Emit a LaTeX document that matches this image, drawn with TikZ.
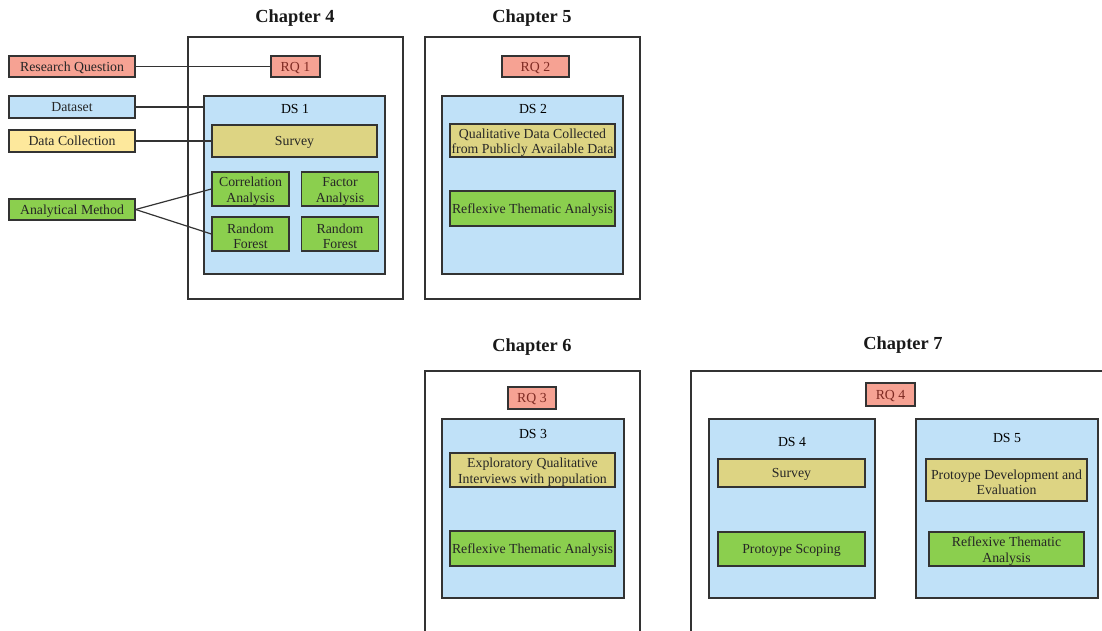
\documentclass[tikz,border=0pt]{standalone}
\usepackage{fontspec}
\setmainfont{Liberation Serif}
\newcommand{\taillebox}{\fontsize{13.8}{15.5}\selectfont}
\newcommand{\ligne}{\rule[-3.4pt]{0pt}{16.2pt}}
\newcommand{\lignes}{\rule{0pt}{13.7pt}}
\definecolor{rqfill}{HTML}{F6A293}
\definecolor{rqtext}{HTML}{7E2A22}
\definecolor{dsfill}{HTML}{C0E1F8}
\definecolor{dcfill}{HTML}{DDD483}
\definecolor{lgfill}{HTML}{FDE89C}
\definecolor{amfill}{HTML}{8BCF4E}
\definecolor{edge}{HTML}{333333}

\begin{document}
\begin{tikzpicture}[x=1pt,y=-1pt,line width=1.2pt,
  box/.style={draw=edge,inner sep=0pt,align=center,font=\taillebox,text=black!85},
  chap/.style={font=\fontsize{18.4}{20}\selectfont\bfseries,text=black!90},
  frame/.style={draw=edge,fill=white,inner sep=0pt}]
  \useasboundingbox (0,0) rectangle (1102,631);
        % Chapter 4
        \node[chap] (t4) at (295,18.5) {Chapter 4};
        \node[frame,minimum width=215,minimum height=262] (ch4) at (295.5,168) {};
        \node[box,fill=rqfill,text=rqtext,minimum width=49,minimum height=21] (rq1) at (295.5,66.5) {\ligne RQ 1};
        \node[box,fill=dsfill,minimum width=181,minimum height=178] (ds1) at (294.5,185) {};
        \node[font=\taillebox,inner sep=0pt] (ds1lbl) at (295,109) {DS 1};
        \node[box,fill=dcfill,minimum width=165,minimum height=32] (surv1) at (294.5,141) {\ligne Survey};
        \node[box,fill=amfill,minimum width=77,minimum height=34] (corr) at (250.5,189) {\lignes Correlation\\ Analysis};
        \node[box,fill=amfill,minimum width=77,minimum height=34] (fact) at (340,189) {\lignes Factor\\ Analysis};
        \node[box,fill=amfill,minimum width=77,minimum height=34] (rf1) at (250.5,234) {\lignes Random\\ Forest};
        \node[box,fill=amfill,minimum width=77,minimum height=34] (rf2) at (340,234) {\lignes Random\\ Forest};
        % legend
        \node[box,fill=rqfill,minimum width=126,minimum height=21] (lrq) at (72,66.5) {\ligne Research Question};
        \draw[edge] (lrq) -- (rq1);
        \node[box,fill=dsfill,minimum width=126,minimum height=22] (lds) at (72,107) {\ligne Dataset};
        \draw[edge] (lds) -- (ds1.west |- lds);
        \node[box,fill=lgfill,minimum width=126,minimum height=22] (ldc) at (72,141) {\ligne Data Collection};
        \draw[edge] (ldc) -- (surv1);
        \node[box,fill=amfill,minimum width=126,minimum height=21] (lam) at (72,209.5) {\ligne Analytical Method};
        \draw[edge] (lam.east) -- (corr.west);
        \draw[edge] (lam.east) -- (rf1.west);
        % Chapter 5
        \node[chap] (t5) at (532,18.5) {Chapter 5};
        \node[frame,minimum width=215,minimum height=262] (ch5) at (532.5,168) {};
        \node[box,fill=rqfill,text=rqtext,minimum width=67,minimum height=21] (rq2) at (535.5,66.5) {\ligne RQ 2};
        \node[box,fill=dsfill,minimum width=181,minimum height=178] (ds2) at (532.5,185) {};
        \node[font=\taillebox,inner sep=0pt] (ds2lbl) at (533,109) {DS 2};
        \node[box,fill=dcfill,minimum width=165,minimum height=33] (qual) at (532.5,140.5) {\lignes Qualitative Data Collected\\ from Publicly Available Data};
        \node[box,fill=amfill,minimum width=165,minimum height=35] (rta2) at (532.5,208.5) {\ligne Reflexive Thematic Analysis};
        % Chapter 6
        \node[chap] (t6) at (532,347.5) {Chapter 6};
        \node[frame,minimum width=215,minimum height=269] (ch6) at (532.5,505.5) {};
        \node[box,fill=rqfill,text=rqtext,minimum width=48,minimum height=22] (rq3) at (532,398) {\ligne RQ 3};
        \node[box,fill=dsfill,minimum width=182,minimum height=179] (ds3) at (533,508.5) {};
        \node[font=\taillebox,inner sep=0pt] (ds3lbl) at (533,434) {DS 3};
        \node[box,fill=dcfill,minimum width=165,minimum height=34] (expl) at (532.5,470) {\lignes Exploratory Qualitative\\ Interviews with population};
        \node[box,fill=amfill,minimum width=165,minimum height=35] (rta3) at (532.5,548.5) {\ligne Reflexive Thematic Analysis};
        % Chapter 7
        \node[chap] (t7) at (903,345.5) {Chapter 7};
        \node[frame,minimum width=424,minimum height=269] (ch7) at (903,505.5) {};
        \node[box,fill=rqfill,text=rqtext,minimum width=49,minimum height=23] (rq4) at (890.5,394.5) {\ligne RQ 4};
        \node[box,fill=dsfill,minimum width=166,minimum height=179] (ds4) at (792,508.5) {};
        \node[font=\taillebox,inner sep=0pt] (ds4lbl) at (792,442) {DS 4};
        \node[box,fill=dcfill,minimum width=147,minimum height=28] (surv4) at (791.5,473) {\ligne Survey};
        \node[box,fill=amfill,minimum width=147,minimum height=34] (scop) at (791.5,549) {\ligne Protoype Scoping};
        \node[box,fill=dsfill,minimum width=182,minimum height=179] (ds5) at (1007,508.5) {};
        \node[font=\taillebox,inner sep=0pt] (ds5lbl) at (1007,438) {DS 5};
        \node[box,fill=dcfill,minimum width=161,minimum height=42] (dev) at (1006.5,480) {\lignes Protoype Development and\\ Evaluation};
        \node[box,fill=amfill,minimum width=155,minimum height=34] (rta5) at (1006.5,549) {\lignes Reflexive Thematic\\ Analysis};
      \end{tikzpicture}
\end{document}
